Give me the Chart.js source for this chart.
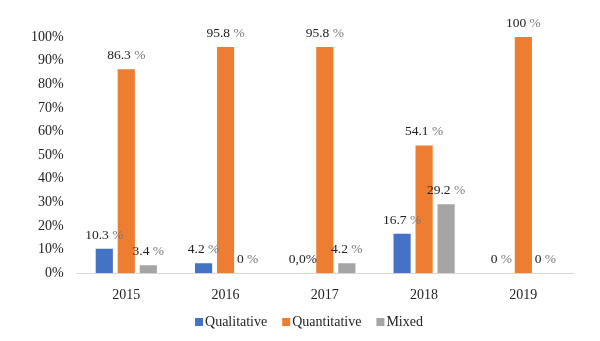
<!DOCTYPE html>
<html>
<head>
<meta charset="utf-8">
<script src="https://cdn.jsdelivr.net/npm/chart.js@4"></script>
<style>
  html, body { margin: 0; padding: 0; background: #fff; }
  #wrap { width: 600px; height: 341px; }
</style>
</head>
<body>
<div id="wrap"><canvas id="chart"></canvas></div>
<script>
// data
const years = ['2015', '2016', '2017', '2018', '2019'];
const qualitative = [10.3, 4.2, 0, 16.7, 0];
const quantitative = [86.3, 95.8, 95.8, 54.1, 100];
const mixed = [3.4, 0, 4.2, 29.2, 0];
const qualitativeLabels = ['10.3 %', '4.2 %', '0,0%', '16.7 %', '0 %'];
const quantitativeLabels = ['86.3 %', '95.8 %', '95.8 %', '54.1 %', '100 %'];
const mixedLabels = ['3.4 %', '0 %', '4.2 %', '29.2 %', '0 %'];
const yTicks = [0, 10, 20, 30, 40, 50, 60, 70, 80, 90, 100];

const serif = '"Liberation Serif", "Times New Roman", serif';

// value labels: number in black, "%" in grey
const valueLabels = {
  id: 'valueLabels',
  afterDatasetsDraw(chart) {
    const ctx = chart.ctx;
    ctx.save();
    ctx.font = '13.5px ' + serif;
    ctx.textBaseline = 'alphabetic';
    chart.data.datasets.forEach(function(ds, i) {
      const meta = chart.getDatasetMeta(i);
      meta.data.forEach(function(bar, j) {
        const txt = ds.valueLabels[j];
        const k = txt.indexOf(' %');
        const num = k >= 0 ? txt.slice(0, k) : txt;
        const pct = k >= 0 ? ' %' : '';
        const w1 = ctx.measureText(num).width;
        const w2 = ctx.measureText(pct).width;
        let x = bar.x - (w1 + w2) / 2;
        const y = bar.y - 10;
        ctx.fillStyle = '#222';
        ctx.textAlign = 'left';
        ctx.fillText(num, x, y);
        ctx.fillStyle = '#777';
        ctx.fillText(pct, x + w1, y);
      });
    });
    ctx.restore();
  }
};

// excel-like legend: small square, tight gap to the text
const bottomLegend = {
  id: 'bottomLegend',
  afterDraw(chart) {
    const ctx = chart.ctx;
    ctx.save();
    ctx.font = '14px ' + serif;
    ctx.textBaseline = 'middle';
    ctx.textAlign = 'left';
    const items = chart.data.datasets.map(function(ds) {
      return { text: ds.label, color: ds.backgroundColor, w: ctx.measureText(ds.label).width };
    });
    let total = 0;
    items.forEach(function(it, i) { total += 10 + it.w + (i ? 15 : 0); });
    let x = chart.width / 2 + 9 - total / 2;
    const y = 322;
    items.forEach(function(it) {
      ctx.fillStyle = it.color;
      ctx.fillRect(x, y - 4, 8, 8);
      ctx.fillStyle = '#222';
      ctx.fillText(it.text, x + 10, y);
      x += 10 + it.w + 15;
    });
    ctx.restore();
  }
};

new Chart(document.getElementById('chart'), {
  type: 'bar',
  data: {
    labels: years,
    datasets: [
      { label: 'Qualitative', data: qualitative, backgroundColor: '#4472C4', valueLabels: qualitativeLabels },
      { label: 'Quantitative', data: quantitative, backgroundColor: '#ED7D31', valueLabels: quantitativeLabels },
      { label: 'Mixed', data: mixed, backgroundColor: '#A5A5A5', valueLabels: mixedLabels }
    ]
  },
  options: {
    responsive: true,
    maintainAspectRatio: false,
    animation: false,
    datasets: { bar: { categoryPercentage: 0.665, barPercentage: 0.78 } },
    layout: { padding: { top: 37, left: 26, right: 27, bottom: 31 } },
    plugins: {
      legend: { display: false },
      tooltip: { enabled: false }
    },
    scales: {
      x: {
        grid: { display: false },
        border: { color: '#d9d9d9' },
        ticks: { color: '#222', font: { family: serif, size: 14 }, padding: 6 }
      },
      y: {
        min: 0, max: 100,
        afterBuildTicks: function(axis) { axis.ticks = yTicks.map(function(v) { return { value: v }; }); },
        grid: { display: false },
        border: { display: false },
        ticks: {
          color: '#222', padding: 5,
          font: { family: serif, size: 14 },
          callback: function(v) { return v + '%'; }
        }
      }
    }
  },
  plugins: [valueLabels, bottomLegend]
});
</script>
</body>
</html>
